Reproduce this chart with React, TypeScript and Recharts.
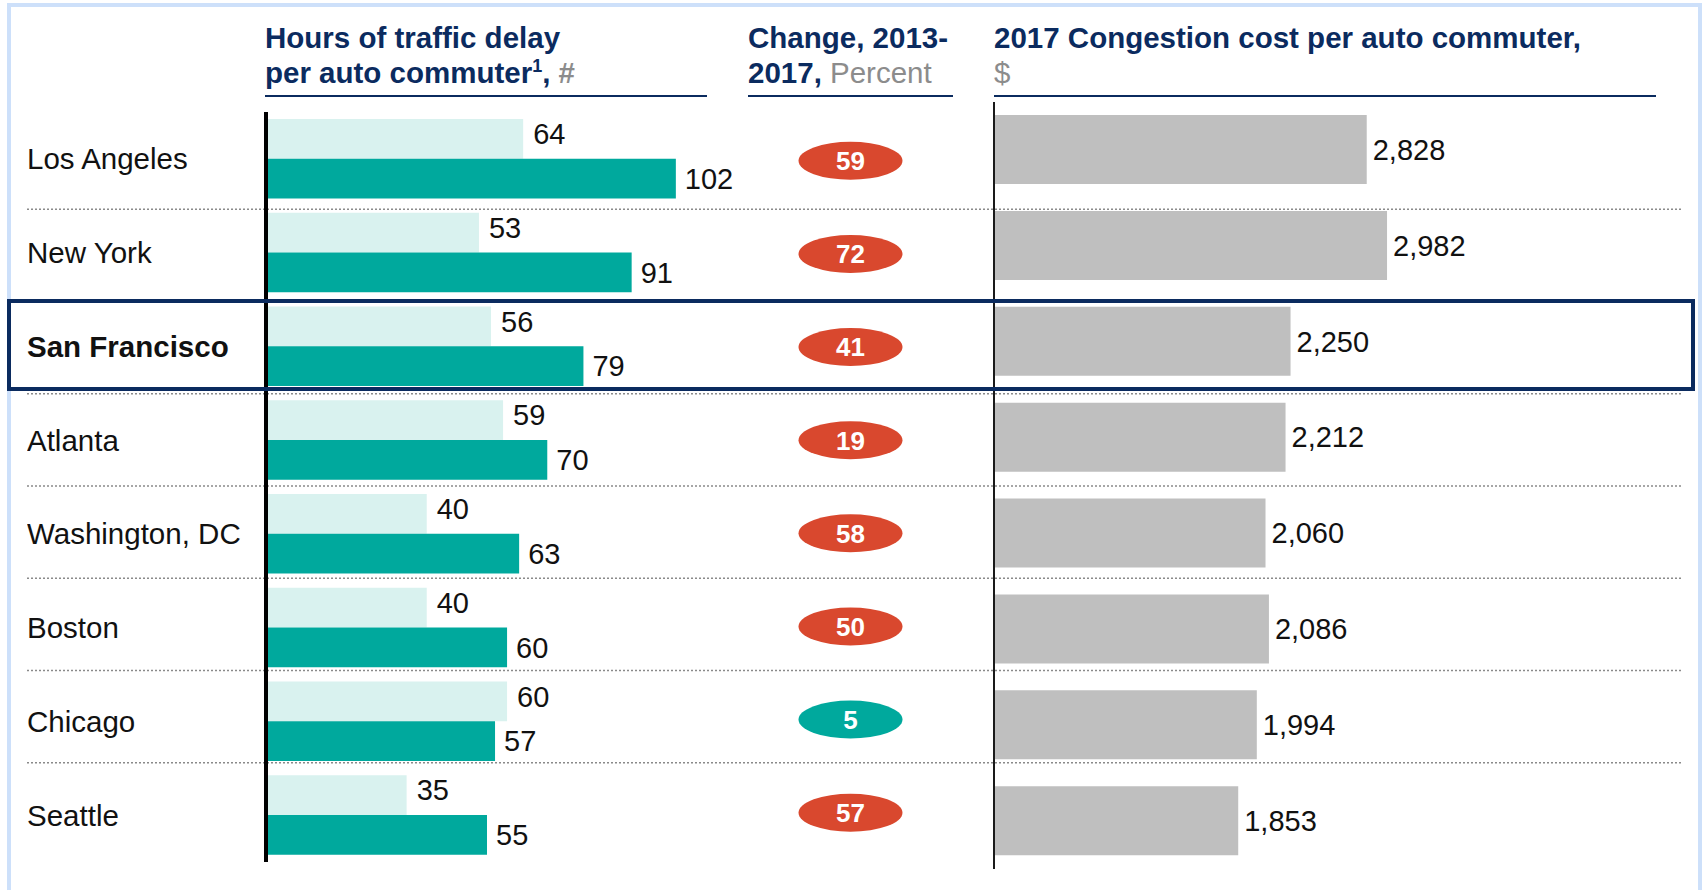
import React from 'react';
import { BarChart, Bar, XAxis, YAxis, LabelList } from 'recharts';

// data
const cities = ['Los Angeles', 'New York', 'San Francisco', 'Atlanta', 'Washington, DC', 'Boston', 'Chicago', 'Seattle'];
const delay2013 = [64, 53, 56, 59, 40, 40, 60, 35];
const delay2017 = [102, 91, 79, 70, 63, 60, 57, 55];
const changePct = [59, 72, 41, 19, 58, 50, 5, 57];
const congestionCost = [2828, 2982, 2250, 2212, 2060, 2086, 1994, 1853];
const highlightCity = 'San Francisco';
const lowChangeCutoff = 10;

const rows = cities.map((city, i) => ({
  city,
  d2013: delay2013[i],
  d2017: delay2017[i],
  change: changePct[i],
  cost: congestionCost[i],
}));

const FONT = '"Liberation Sans", Arial, Helvetica, sans-serif';
const NAVY = '#0b2b5f';
const GREY_TXT = '#8c8c8c';
const LIGHT_TEAL = '#d9f2ef';
const TEAL = '#00a99d';
const RED = '#d9482e';
const BAR_GREY = '#bfbfbf';

// dotted row separators (layout only)
const separatorYs = [209.3, 301.5, 393.8, 486, 578.2, 670.5, 762.7];

function CityTick(props: any) {
  const { y, payload } = props;
  const bold = payload.value === highlightCity;
  return (
    <text x={0} y={y} dy="0.36em" textAnchor="start" fontFamily={FONT} fontSize={29.5} fontWeight={bold ? 700 : 400} fill="#111">
      {payload.value}
    </text>
  );
}

function ChangeBadge(props: any) {
  const { y, height, background, payload } = props;
  const cx = background ? background.x + background.width / 2 : 102;
  const cy = y + height / 2;
  const fill = payload.change < lowChangeCutoff ? TEAL : RED;
  return (
    <g>
      <ellipse cx={cx} cy={cy} rx={52} ry={19} fill={fill} />
      <text x={cx} y={cy} dy="0.36em" textAnchor="middle" fontFamily={FONT} fontWeight={700} fontSize={26} fill="#fff">
        {payload.change}
      </text>
    </g>
  );
}

const headerStyle: React.CSSProperties = {
  position: 'absolute',
  top: 20,
  fontFamily: FONT,
  fontWeight: 700,
  fontSize: 29.5,
  lineHeight: '35px',
  color: NAVY,
  whiteSpace: 'nowrap',
};

const underline = (left: number, right: number): React.CSSProperties => ({
  position: 'absolute',
  left,
  top: 94.5,
  width: right - left,
  height: 2,
  background: NAVY,
});

export default function App() {
  return (
    <div style={{ position: 'absolute', left: 0, top: 0, width: 1703, height: 890, overflow: 'hidden', background: '#fff', fontFamily: FONT }}>
      {/* light blue outer frame */}
      <div style={{ position: 'absolute', left: 7, top: 3, width: 1695, height: 1000, boxSizing: 'border-box', border: '4px solid #cde0fa' }} />

      {/* headers */}
      <div style={{ ...headerStyle, left: 265 }}>
        Hours of traffic delay<br />
        per auto commuter<sup style={{ fontSize: 18, lineHeight: 0 }}>1</sup>, <span style={{ color: GREY_TXT }}>#</span>
      </div>
      <div style={underline(265, 707)} />
      <div style={{ ...headerStyle, left: 748 }}>
        Change, 2013-<br />
        2017, <span style={{ color: GREY_TXT, fontWeight: 400 }}>Percent</span>
      </div>
      <div style={underline(748, 953)} />
      <div style={{ ...headerStyle, left: 994 }}>
        2017 Congestion cost per auto commuter,<br />
        <span style={{ color: GREY_TXT, fontWeight: 400 }}>$</span>
      </div>
      <div style={underline(994, 1656)} />

      {/* row separators */}
      <svg width={1703} height={890} style={{ position: 'absolute', left: 0, top: 0 }}>
        {separatorYs.map((y) => (
          <line key={y} x1={27} x2={1683} y1={y} y2={y} stroke="#8a8a8a" strokeWidth={1.6} strokeDasharray="2 2" />
        ))}
      </svg>

      {/* hours of delay */}
      <div style={{ position: 'absolute', left: 27, top: 112 }}>
        <BarChart width={721} height={750} data={rows} layout="vertical" margin={{ top: 0, right: 40, bottom: 0, left: 0 }} barGap={0} barSize={39.7} style={{ overflow: 'visible' }}>
          <XAxis type="number" domain={[0, 110]} hide />
          <YAxis type="category" dataKey="city" width={239} axisLine={{ stroke: '#000', strokeWidth: 4 }} tickLine={false} tick={(p: any) => <CityTick {...p} />} />
          <Bar dataKey="d2013" fill={LIGHT_TEAL} isAnimationActive={false}>
            <LabelList dataKey="d2013" position="right" offset={10} dy={-5} fill="#111" fontSize={29} fontFamily={FONT} />
          </Bar>
          <Bar dataKey="d2017" fill={TEAL} isAnimationActive={false}>
            <LabelList dataKey="d2017" position="right" offset={9} fill="#111" fontSize={29} fontFamily={FONT} />
          </Bar>
        </BarChart>
      </div>

      {/* change badges */}
      <div style={{ position: 'absolute', left: 748, top: 114 }}>
        <BarChart width={205} height={745} data={rows} layout="vertical" margin={{ top: 0, right: 0, bottom: 0, left: 0 }}>
          <XAxis type="number" domain={[0, 100]} hide />
          <YAxis type="category" dataKey="city" hide />
          <Bar dataKey="change" isAnimationActive={false} shape={(p: any) => <ChangeBadge {...p} />} />
        </BarChart>
      </div>

      {/* congestion cost */}
      <div style={{ position: 'absolute', left: 993, top: 101.6 }}>
        <BarChart width={700} height={767} data={rows} layout="vertical" margin={{ top: 0, right: 40, bottom: 0, left: 0 }} barSize={69} style={{ overflow: 'visible' }}>
          <XAxis type="number" domain={[0, 5000]} hide />
          <YAxis type="category" dataKey="city" width={1} tick={false} tickLine={false} axisLine={{ stroke: '#1a1a1a', strokeWidth: 2 }} />
          <Bar dataKey="cost" fill={BAR_GREY} isAnimationActive={false}>
            <LabelList dataKey="cost" position="right" offset={6} fill="#111" fontSize={29} fontFamily={FONT} formatter={(v: any) => Number(v).toLocaleString('en-US')} />
          </Bar>
        </BarChart>
      </div>

      {/* highlighted row */}
      <div style={{ position: 'absolute', left: 7, top: 299, width: 1688, height: 92, boxSizing: 'border-box', border: `4px solid ${NAVY}` }} />
    </div>
  );
}
